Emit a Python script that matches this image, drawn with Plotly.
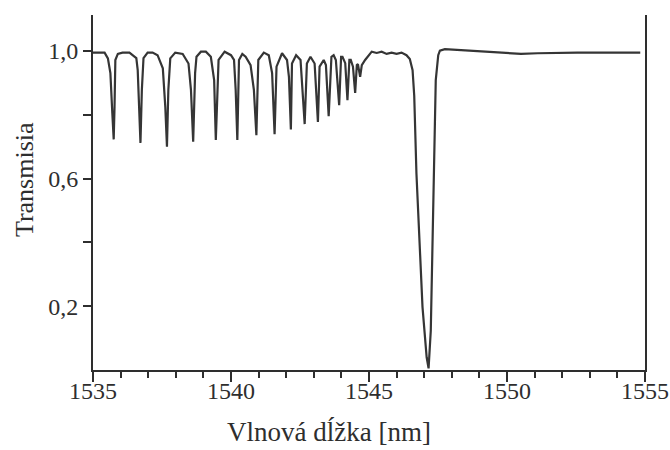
import plotly.graph_objects as go

# Wavelength [nm] and transmission
wavelength_nm = [
    1535.00, 1535.42, 1535.54, 1535.63, 1535.70, 1535.75, 1535.78, 1535.81, 1535.90, 1536.07,
    1536.32, 1536.57, 1536.62, 1536.68, 1536.72, 1536.77, 1536.83, 1536.98, 1537.16, 1537.34,
    1537.53, 1537.62, 1537.68, 1537.73, 1537.80, 1537.98, 1538.25, 1538.46, 1538.55, 1538.63,
    1538.70, 1538.75, 1538.91, 1539.09, 1539.27, 1539.39, 1539.45, 1539.55, 1539.77, 1540.00,
    1540.11, 1540.17, 1540.23, 1540.29, 1540.41, 1540.53, 1540.71, 1540.83, 1540.92, 1540.99,
    1541.19, 1541.37, 1541.49, 1541.58, 1541.65, 1541.85, 1542.03, 1542.10, 1542.17, 1542.21,
    1542.36, 1542.52, 1542.60, 1542.67, 1542.75, 1542.88, 1543.03, 1543.08, 1543.15, 1543.21,
    1543.36, 1543.44, 1543.54, 1543.64, 1543.72, 1543.80, 1543.92, 1543.99, 1544.04, 1544.14,
    1544.22, 1544.29, 1544.34, 1544.42, 1544.50, 1544.56, 1544.60, 1544.68, 1544.74, 1544.86,
    1544.98, 1545.10, 1545.28, 1545.46, 1545.64, 1545.82, 1546.00, 1546.18, 1546.36, 1546.48,
    1546.58, 1546.64, 1546.72, 1546.82, 1546.94, 1547.09, 1547.16, 1547.24, 1547.31, 1547.37,
    1547.42, 1547.51, 1547.57, 1547.75, 1548.34, 1548.95, 1549.55, 1550.51, 1551.11, 1552.55,
    1554.83,
]
transmission = [
    0.995, 0.995, 0.977, 0.931, 0.805, 0.723, 0.825, 0.972, 0.991, 0.995,
    0.995, 0.978, 0.940, 0.825, 0.712, 0.878, 0.978, 0.995, 0.995, 0.987,
    0.946, 0.825, 0.700, 0.878, 0.977, 0.995, 0.991, 0.961, 0.878, 0.716,
    0.931, 0.982, 0.998, 0.998, 0.982, 0.909, 0.721, 0.972, 0.998, 0.987,
    0.972, 0.878, 0.721, 0.972, 0.991, 0.982, 0.956, 0.878, 0.736, 0.972,
    0.995, 0.987, 0.931, 0.739, 0.951, 0.993, 0.972, 0.919, 0.754, 0.961,
    0.987, 0.972, 0.878, 0.771, 0.961, 0.982, 0.961, 0.878, 0.778, 0.951,
    0.972, 0.956, 0.796, 0.982, 0.987, 0.972, 0.830, 0.982, 0.982, 0.962,
    0.846, 0.972, 0.972, 0.951, 0.869, 0.956, 0.959, 0.919, 0.956, 0.972,
    0.987, 0.998, 0.994, 0.998, 0.991, 0.995, 0.991, 0.995, 0.987, 0.975,
    0.940, 0.860, 0.616, 0.407, 0.197, 0.040, 0.005, 0.124, 0.407, 0.689,
    0.909, 0.987, 1.001, 1.006, 1.003, 1.000, 0.998, 0.991, 0.993, 0.995,
    0.995,
]

x_tick_vals = [1535, 1540, 1545, 1550, 1555]
x_tick_text = ["1535", "1540", "1545", "1550", "1555"]
y_tick_vals = [0.2, 0.4, 0.6, 0.8, 1.0]
y_tick_text = ["0,2", "", "0,6", "", "1,0"]
x_title = "Vlnová dĺžka [nm]"
y_title = "Transmisia"

font_family = "Liberation Serif, 'Times New Roman', Times, serif"
ink = "#2e2e2e"

fig = go.Figure()
fig.add_trace(go.Scatter(
    x=wavelength_nm, y=transmission, mode="lines",
    line=dict(color="#353535", width=2.2),
    showlegend=False, hoverinfo="skip",
))

fig.update_layout(
    width=670, height=450,
    margin=dict(l=93, r=25, t=15, b=80),
    paper_bgcolor="white", plot_bgcolor="white",
    font=dict(family=font_family, color=ink, size=24),
    xaxis=dict(
        range=[1535, 1555.002], showgrid=False, zeroline=False,
        showline=True, linecolor=ink, linewidth=2, mirror=False,
        tickmode="array", tickvals=x_tick_vals, ticktext=x_tick_text,
        ticks="outside", ticklen=10, tickwidth=2, tickcolor=ink,
        ticklabeloverflow="allow", ticklabelstandoff=-12,
        tickfont=dict(size=24, family=font_family, color=ink),
        minor=dict(dtick=1, ticks="outside", ticklen=6, tickwidth=2, tickcolor=ink, showgrid=False),
        automargin=False,
    ),
    yaxis=dict(
        range=[0, 1.113], showgrid=False, zeroline=False,
        showline=True, linecolor=ink, linewidth=2, mirror=True,
        tickmode="array", tickvals=y_tick_vals, ticktext=y_tick_text,
        ticks="outside", ticklen=8, tickwidth=2, tickcolor=ink,
        tickfont=dict(size=24, family=font_family, color=ink),
        automargin=False,
    ),
    annotations=[
        dict(text=x_title, xref="paper", yref="paper", x=0.4275, y=-0.176,
             xanchor="center", yanchor="middle", showarrow=False,
             font=dict(size=27, family=font_family, color=ink)),
        dict(text=y_title, xref="paper", yref="paper", x=-0.125, y=0.535,
             xanchor="center", yanchor="middle", showarrow=False, textangle=-90,
             font=dict(size=26, family=font_family, color=ink)),
    ],
)

fig.write_html("out.html")
